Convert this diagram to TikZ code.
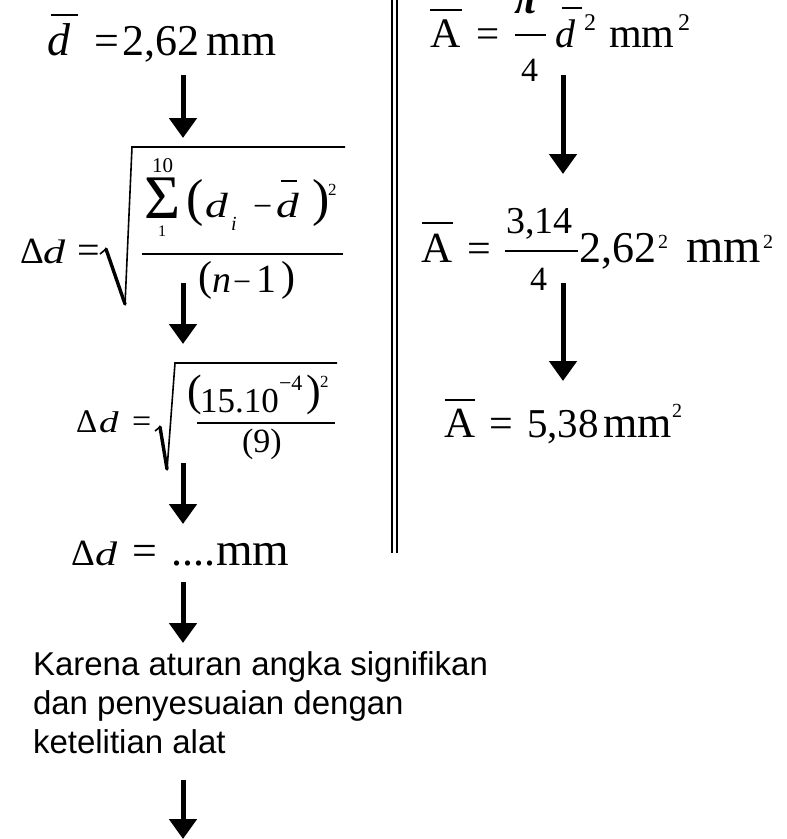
\documentclass[tikz,border=0pt]{standalone}
\usepackage{fontspec}
\setmainfont{Liberation Serif}
\newfontfamily\arialf{Liberation Sans}
\usetikzlibrary{arrows.meta}
\newcommand\fsz[1]{\fontsize{#1}{#1}\selectfont}
\begin{document}
\begin{tikzpicture}[x=1pt,y=-1pt,
  t/.style={anchor=base west,inner sep=0pt,outer sep=0pt},
  arr/.style={line width=5pt,-{Triangle[width=27pt,length=20pt]}},
  barl/.style={line width=2pt},
  thinl/.style={line width=1.6pt},
  thickl/.style={line width=3.4pt,line cap=round}]
\useasboundingbox (0,0) rectangle (787,839);
% ---------- line 1 ----------
\node[t] (l1d) at (47,55) {\fsz{46}\itshape d};
\draw[barl] (51,15) -- (78,15);
\node[t] (l1eq) at (94,55) {\fsz{44}=};
\node[t] (l1v) at (122,55) {\fsz{44}2,62};
\node[t] (l1mm) at (206,55) {\fsz{45}mm};
% ---------- formula 2 ----------
\node[t] (f2D) at (20,263) {\fsz{37}Δ};
\node[t] (f2d) at (43,263) {\fsz{34}\scalebox{1.3}[1]{\itshape d}};
\node[t] (f2eq) at (77,263) {\fsz{40}=};
\draw[thinl] (100,254) -- (106,249);
\draw[thickl] (106,249) -- (125,304);
\draw[thinl] (125,305) -- (132,147) -- (345,147);
\node[t] (f2ten) at (152,172) {\fsz{21}10};
\node[t] (f2sum) at (144,218) {\fsz{62}Σ};
\node[t] (f2one) at (158,236) {\fsz{16}1};
\node[t] (f2lp) at (186,215) {\fsz{52}(};
\node[t] (f2di) at (205,217) {\fsz{35}\scalebox{1.3}[1]{\itshape d}};
\node[t] (f2i) at (231,230) {\fsz{20}\itshape i};
\node[t] (f2mi) at (253,217) {\fsz{34}−};
\node[t] (f2db) at (276,217) {\fsz{35}\scalebox{1.3}[1]{\itshape d}};
\draw[barl] (281,181) -- (297,181);
\node[t] (f2rp) at (312,215) {\fsz{52})};
\node[t] (f2sq) at (328,195) {\fsz{17}2};
\draw[thinl] (142,254) -- (343,254);
\node[t] (f2lp2) at (198,290) {\fsz{42}(};
\node[t] (f2n) at (212,292) {\fsz{38}\itshape n};
\node[t] (f2m2) at (233,292) {\fsz{32}−};
\node[t] (f2o) at (256,292) {\fsz{40}1};
\node[t] (f2rp2) at (281,290) {\fsz{42})};
% ---------- formula 3 ----------
\node[t] (f3D) at (76,432) {\fsz{33}Δ};
\node[t] (f3d) at (99,432) {\fsz{30}\scalebox{1.3}[1]{\itshape d}};
\node[t] (f3eq) at (132,432) {\fsz{34}=};
\draw[thinl] (155,431) -- (160,427);
\draw[thickl] (160,427) -- (167,469);
\draw[thinl] (167,470) -- (175,363) -- (337,363);
\node[t] (f3lp) at (187,405) {\fsz{44}(};
\node[t] (f3num) at (200,412) {\fsz{35}15.10};
\node[t] (f3exp) at (279,390) {\fsz{22}−4};
\node[t] (f3rp) at (306,405) {\fsz{44})};
\node[t] (f3sq) at (320,387) {\fsz{17}2};
\draw[thinl] (197,423) -- (335,423);
\node[t] (f3den) at (242,452) {\fsz{34}(9)};
% ---------- line 4 ----------
\node[t] (l4D) at (71,565) {\fsz{37}Δ};
\node[t] (l4d) at (95,565) {\fsz{34}\scalebox{1.3}[1]{\itshape d}};
\node[t] (l4eq) at (132,565) {\fsz{44}=};
\node[t] (l4dots) at (171,565) {\fsz{44}....};
\node[t] (l4mm) at (216,565) {\fsz{47}mm};
% ---------- text ----------
\node[t] (tx1) at (33,675) {\arialf\fsz{33}Karena aturan angka signifikan};
\node[t] (tx2) at (33,714) {\arialf\fsz{33}dan penyesuaian dengan};
\node[t] (tx3) at (33,753) {\arialf\fsz{33}ketelitian alat};
% ---------- double line ----------
\draw[line width=2.6pt] (392,0) -- (392,553);
\draw[line width=2.6pt] (397,0) -- (397,553);
% ---------- right R1 ----------
\node[t] (r1A) at (430,47) {\fsz{42}A};
\draw[barl] (430,10) -- (462,10);
\node[t] (r1eq) at (476,47) {\fsz{41}=};
\node[t] (r1pi) at (514,13) {\fsz{42}\bfseries\itshape π};
\draw[thinl] (515,35) -- (546,35);
\node[t] (r1four) at (521,81) {\fsz{34}4};
\node[t] (r1d) at (555,47) {\fsz{40}\itshape d};
\draw[barl] (562,8) -- (582,8);
\node[t] (r1s1) at (584,30) {\fsz{24}2};
\node[t] (r1mm) at (609,47) {\fsz{42}mm};
\node[t] (r1s2) at (678,30) {\fsz{24}2};
% ---------- right R2 ----------
\node[t] (r2A) at (421,262) {\fsz{43}A};
\draw[barl] (422,223) -- (453,223);
\node[t] (r2eq) at (467,262) {\fsz{42}=};
\node[t] (r2n) at (506,233) {\fsz{38}3,14};
\draw[thinl] (505,251) -- (578,251);
\node[t] (r2four) at (530,290) {\fsz{34}4};
\node[t] (r2v) at (579,262) {\fsz{44}2,62};
\node[t] (r2s1) at (658,248) {\fsz{20}2};
\node[t] (r2mm) at (686,262) {\fsz{48}mm};
\node[t] (r2s2) at (763,248) {\fsz{20}2};
% ---------- right R3 ----------
\node[t] (r3A) at (444,437) {\fsz{43}A};
\draw[barl] (445,400) -- (475,400);
\node[t] (r3eq) at (489,437) {\fsz{42}=};
\node[t] (r3v) at (527,437) {\fsz{41}5,38};
\node[t] (r3mm) at (603,437) {\fsz{44}mm};
\node[t] (r3s) at (672,417) {\fsz{20}2};
% ---------- arrows ----------
\coordinate (a1s) at (183,75);  \coordinate (a1e) at (183,138);
\coordinate (a2s) at (183,283); \coordinate (a2e) at (183,344);
\coordinate (a3s) at (183,463); \coordinate (a3e) at (183,524);
\coordinate (a4s) at (183,582); \coordinate (a4e) at (183,643);
\coordinate (a5s) at (183,780); \coordinate (a5e) at (183,839);
\coordinate (b1s) at (563,75);  \coordinate (b1e) at (563,174);
\coordinate (b2s) at (563,283); \coordinate (b2e) at (563,381);
\draw[arr] (a1s) -- (a1e);
\draw[arr] (a2s) -- (a2e);
\draw[arr] (a3s) -- (a3e);
\draw[arr] (a4s) -- (a4e);
\draw[arr] (b1s) -- (b1e);
\draw[arr] (b2s) -- (b2e);
\draw[arr] (a5s) -- (a5e);
\end{tikzpicture}
\end{document}
